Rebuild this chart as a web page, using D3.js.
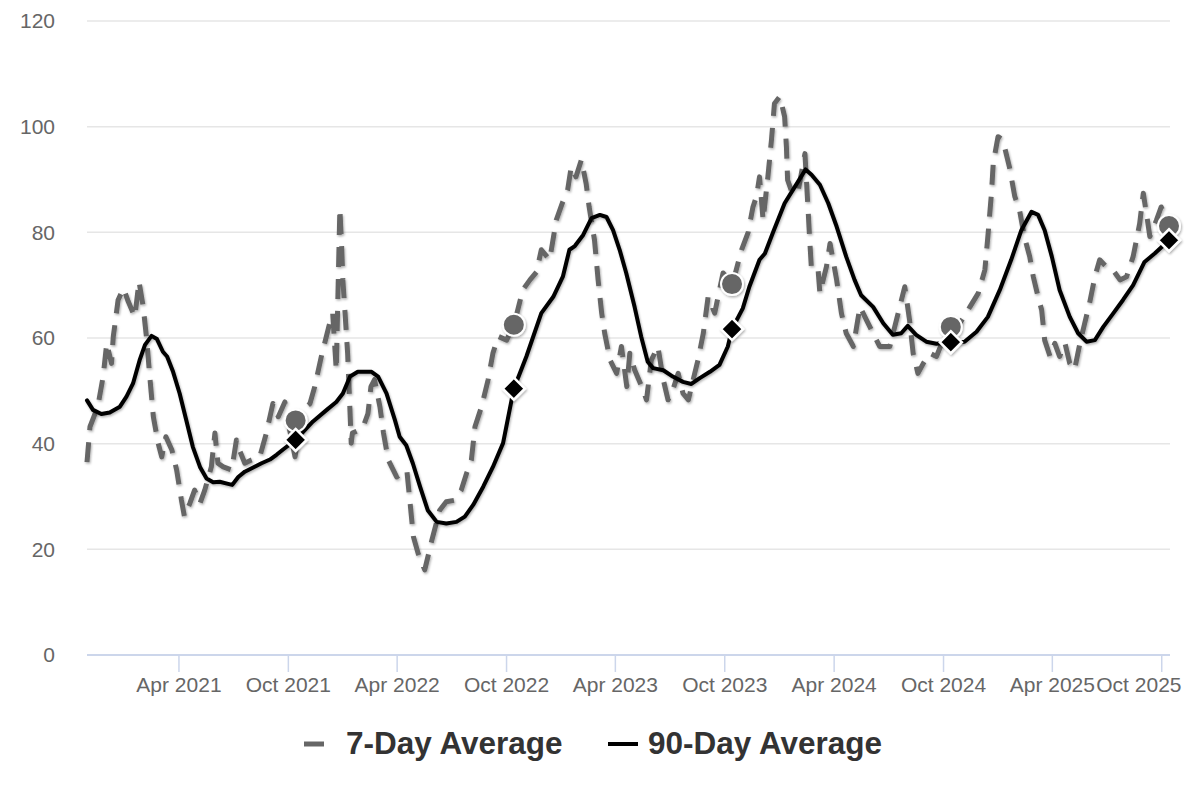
<!DOCTYPE html>
<html><head><meta charset="utf-8">
<script src="https://cdn.jsdelivr.net/npm/d3@7"></script>
<style>body{margin:0;background:#fff}svg{display:block;font-family:"Liberation Sans",Arial,Helvetica,sans-serif}</style>
</head><body><svg id="c" width="1200" height="800"></svg>
<script>
// ---- data ----
const dates7 = ["2020-10-30","2020-11-04","2020-11-17","2020-11-26","2020-12-02","2020-12-10","2020-12-13","2020-12-16","2020-12-21","2020-12-30",
"2021-01-07","2021-01-18","2021-01-25","2021-02-01","2021-02-07","2021-02-12","2021-02-18","2021-02-26","2021-03-04","2021-03-11",
"2021-03-21","2021-03-29","2021-04-06","2021-04-11","2021-04-20","2021-04-28","2021-05-07","2021-05-15","2021-05-26","2021-06-01",
"2021-06-06","2021-06-15","2021-06-29","2021-07-07","2021-07-12","2021-07-21","2021-08-01","2021-08-15","2021-08-26","2021-09-06",
"2021-09-15","2021-09-26","2021-10-04","2021-10-13","2021-10-21","2021-11-01","2021-11-07","2021-11-15","2021-11-26","2021-12-10",
"2021-12-15","2021-12-21","2021-12-27","2021-12-30","2022-01-01","2022-01-04","2022-01-09","2022-01-12","2022-01-15","2022-01-17",
"2022-02-03","2022-02-12","2022-02-17","2022-02-23","2022-03-04","2022-03-10","2022-03-18","2022-04-01","2022-04-10","2022-04-18",
"2022-04-23","2022-04-29","2022-05-07","2022-05-18","2022-05-30","2022-06-12","2022-06-23","2022-07-07","2022-07-18","2022-07-27",
"2022-08-04","2022-08-10","2022-08-21","2022-09-01","2022-09-09","2022-09-18","2022-10-02","2022-10-15","2022-10-29","2022-11-10",
"2022-11-21","2022-11-29","2022-12-13","2022-12-24","2023-01-04","2023-01-12","2023-01-18","2023-01-26","2023-02-04","2023-02-12",
"2023-02-17","2023-02-26","2023-03-04","2023-03-10","2023-03-15","2023-03-24","2023-04-04","2023-04-12","2023-04-21","2023-04-26",
"2023-05-04","2023-05-16","2023-05-24","2023-06-01","2023-06-12","2023-06-21","2023-06-29","2023-07-07","2023-07-16","2023-07-24",
"2023-08-02","2023-08-10","2023-08-18","2023-08-27","2023-09-04","2023-09-15","2023-09-29","2023-10-15","2023-10-30","2023-11-10",
"2023-11-18","2023-11-24","2023-11-29","2023-12-05","2023-12-13","2023-12-19","2023-12-24","2024-01-02","2024-01-10","2024-01-13",
"2024-01-15","2024-01-21","2024-02-01","2024-02-13","2024-02-18","2024-02-21","2024-02-24","2024-03-06","2024-03-09","2024-03-20",
"2024-03-26","2024-04-06","2024-04-14","2024-04-22","2024-05-04","2024-05-15","2024-05-26","2024-06-06","2024-06-17","2024-07-04",
"2024-07-15","2024-07-29","2024-08-06","2024-08-12","2024-08-20","2024-08-29","2024-09-09","2024-09-20","2024-10-01","2024-10-18",
"2024-10-29","2024-11-09","2024-11-15","2024-11-29","2024-12-10","2024-12-15","2024-12-21","2024-12-24","2025-01-01","2025-01-09",
"2025-01-20","2025-01-29","2025-02-06","2025-02-14","2025-02-23","2025-03-01","2025-03-09","2025-03-15","2025-03-20","2025-03-29",
"2025-04-06","2025-04-14","2025-04-23","2025-05-01","2025-05-09","2025-05-18","2025-05-26","2025-06-03","2025-06-12","2025-06-20",
"2025-07-01","2025-07-12","2025-07-24","2025-08-04","2025-08-15","2025-08-26","2025-09-01","2025-09-07","2025-09-12","2025-09-23",
"2025-10-01","2025-10-14"];
const values7 = [36.5,43.2,47.0,52.7,59.0,55.2,60.3,62.8,67.2,69.4,
66.9,64.0,70.7,65.9,59.6,52.7,45.1,40.1,37.5,41.3,
38.8,35.0,29.3,26.2,28.7,31.2,28.7,31.2,35.6,42.0,
36.3,35.6,35.0,40.7,38.8,36.3,36.9,37.5,42.0,47.6,
45.1,47.9,42.6,37.5,43.2,47.0,47.6,50.8,56.5,62.8,
64.7,53.9,84.5,77.3,71.0,65.9,57.1,48.9,40.1,42.0,
42.9,45.7,50.8,52.1,47.0,42.0,36.9,33.7,34.4,35.0,
29.3,22.4,19.2,16.1,21.8,27.4,29.0,29.3,31.2,34.4,
36.9,43.2,47.0,52.1,57.1,60.3,59.6,62.8,69.1,71.0,
72.5,76.7,74.8,82.3,85.8,88.0,92.4,90.5,93.7,89.2,
84.8,78.5,71.0,64.7,60.9,55.8,53.3,58.4,50.8,57.1,
54.0,50.8,48.3,55.8,58.4,52.1,48.3,50.2,53.3,49.5,
48.3,52.1,55.8,60.9,67.8,64.7,72.3,70.3,76.7,80.0,
84.8,86.8,90.5,82.3,90.5,97.5,104.4,105.7,101.9,96.2,
89.9,88.0,87.4,94.9,84.8,78.5,72.9,72.9,68.5,73.5,
77.9,71.0,64.7,60.9,58.4,65.9,63.4,60.9,58.4,58.4,
63.4,69.7,63.4,57.1,53.3,55.2,57.1,56.5,59.6,61.8,
62.8,64.7,65.9,68.5,72.9,79.2,87.4,93.1,98.1,97.5,
92.4,86.8,84.2,79.2,75.4,71.6,67.8,65.3,59.6,56.5,
59.0,56.5,59.0,55.2,54.0,59.0,62.8,66.5,71.6,74.8,
73.5,72.9,71.0,71.6,75.4,81.7,87.4,83.0,79.2,82.3,
84.8,81.5];

const dates90 = ["2020-10-30","2020-11-09","2020-11-23","2020-12-07","2020-12-24","2021-01-04","2021-01-15","2021-01-26","2021-02-04","2021-02-15",
"2021-02-24","2021-03-06","2021-03-13","2021-03-23","2021-04-03","2021-04-14","2021-04-25","2021-05-07","2021-05-18","2021-05-29",
"2021-06-09","2021-06-23","2021-06-30","2021-07-10","2021-07-21","2021-08-04","2021-08-18","2021-09-01","2021-09-12","2021-09-23",
"2021-10-14","2021-11-12","2021-12-05","2021-12-21","2022-01-01","2022-01-13","2022-01-26","2022-02-18","2022-03-01","2022-03-15",
"2022-03-29","2022-04-06","2022-04-17","2022-04-28","2022-05-10","2022-05-23","2022-06-07","2022-06-23","2022-07-10","2022-07-24",
"2022-08-07","2022-08-24","2022-09-09","2022-09-26","2022-10-14","2022-11-04","2022-11-29","2022-12-19","2023-01-04","2023-01-15",
"2023-01-24","2023-02-07","2023-02-21","2023-03-07","2023-03-18","2023-03-29","2023-04-09","2023-04-20","2023-05-04","2023-05-15",
"2023-05-26","2023-06-04","2023-06-21","2023-07-07","2023-07-24","2023-08-07","2023-08-21","2023-09-07","2023-09-23","2023-10-07",
"2023-10-14","2023-11-01","2023-11-12","2023-11-29","2023-12-08","2023-12-22","2024-01-10","2024-01-27","2024-02-14","2024-02-24",
"2024-03-09","2024-03-23","2024-04-06","2024-04-22","2024-05-06","2024-05-17","2024-06-06","2024-06-23","2024-07-09","2024-07-23",
"2024-08-03","2024-08-17","2024-09-03","2024-09-20","2024-10-14","2024-11-06","2024-11-26","2024-12-15","2025-01-04","2025-01-23",
"2025-02-09","2025-02-26","2025-03-09","2025-03-20","2025-04-01","2025-04-14","2025-05-01","2025-05-15","2025-05-29","2025-06-12",
"2025-06-26","2025-07-13","2025-07-29","2025-08-15","2025-09-03","2025-09-20","2025-10-14"];
const values90 = [48.2,46.4,45.6,45.9,47.0,48.9,51.4,55.8,58.7,60.4,
59.8,57.4,56.5,53.6,49.5,44.5,39.4,35.6,33.4,32.7,
32.8,32.4,32.2,33.7,34.7,35.5,36.3,37.0,37.9,38.9,
40.7,44.2,46.4,47.9,49.5,52.7,53.6,53.6,52.7,49.5,
44.5,41.3,39.7,36.3,31.9,27.4,25.2,24.9,25.2,26.2,
28.4,31.9,35.6,40.1,50.4,56.5,64.7,67.8,71.6,76.7,
77.4,79.5,82.7,83.3,82.9,80.4,76.7,72.3,65.9,60.3,
55.5,54.3,53.9,52.7,51.7,51.3,52.4,53.6,54.9,58.4,
61.7,65.6,69.7,74.8,76.0,80.1,85.5,88.6,91.9,90.9,
89.0,85.5,81.1,75.4,71.0,68.1,65.9,62.8,60.6,60.9,
62.3,60.6,59.3,58.9,59.2,59.3,61.2,64.0,69.1,74.8,
80.4,83.9,83.3,80.4,75.4,69.1,64.0,60.9,59.3,59.6,
62.1,64.7,67.2,70.0,74.4,76.0,78.5];

const markerDates = ["2021-10-14","2022-10-14","2023-10-14","2024-10-14","2025-10-14"];
const marker7Values = [44.4,62.5,70.2,62.1,81.2];
const marker90Values = [40.7,50.4,61.7,59.2,78.5];

const yTicks = [0,20,40,60,80,100,120];
const xTickDates = ["2021-04-01","2021-10-01","2022-04-01","2022-10-01","2023-04-01","2023-10-01","2024-04-01","2024-10-01","2025-04-01","2025-10-01"];
const seriesNames = ["7-Day Average","90-Day Average"];
const domainDates = ["2020-10-30","2025-10-14"];

// ---- chart ----
const parse = d3.utcParse("%Y-%m-%d");
const svg = d3.select("#c");
const plotL = 87, plotR = 1169, plotT = 21, plotB = 655;

const x = d3.scaleUtc().domain(domainDates.map(parse)).range([plotL, plotR]);
const y = d3.scaleLinear().domain([0, 120]).range([plotB, plotT]);

const defs = svg.append("defs");
const f = defs.append("filter").attr("id","sh").attr("x","-20%").attr("y","-20%").attr("width","140%").attr("height","140%");
f.append("feDropShadow").attr("dx",1).attr("dy",1.5).attr("stdDeviation",1.3).attr("flood-color","#000").attr("flood-opacity",0.3);

// grid
svg.append("g").selectAll("line").data(yTicks.filter(d=>d>0)).join("line")
  .attr("x1", plotL).attr("x2", 1170).attr("y1", d=>y(d)).attr("y2", d=>y(d))
  .attr("stroke","#e6e6e6").attr("stroke-width",1.5);

// y labels
svg.append("g").selectAll("text").data(yTicks).join("text")
  .attr("x", 55).attr("y", d=>y(d)).attr("dy","0.35em").attr("text-anchor","end")
  .attr("font-size",21).attr("fill","#666").text(d=>d);

// x axis
const xg = svg.append("g").attr("transform",`translate(0,${plotB})`);
const xAxis = d3.axisBottom(x).tickValues(xTickDates.map(parse)).tickSize(17).tickPadding(8)
  .tickFormat(d3.utcFormat("%b %Y"));
xg.call(xAxis);
xg.attr("font-family",null).attr("font-size",null);
xg.select(".domain").attr("stroke","#ccd6eb").attr("stroke-width",2).attr("d",`M${plotL},0H1170`);
xg.selectAll(".tick line").attr("stroke","#ccd6eb").attr("stroke-width",1.5);
xg.selectAll(".tick text").attr("font-size",21).attr("fill","#666").attr("dy","0.57em");
xg.selectAll(".tick").each(function(d){
  const t = d3.select(this).select("text");
  const w = t.node().getComputedTextLength();
  const tx = x(d);
  const maxRight = 1181;
  if (tx + w/2 > maxRight) t.attr("x", maxRight - w/2 - tx);
});

// lines
const pts7 = dates7.map((d,i)=>[parse(d), values7[i]]);
const pts90 = dates90.map((d,i)=>[parse(d), values90[i]]);
const line = d3.line().x(d=>x(d[0])).y(d=>y(d[1]));

svg.append("path").datum(pts7).attr("d", line).attr("fill","none")
  .attr("stroke","#666666").attr("stroke-width",5).attr("stroke-dasharray","20,12")
  .attr("stroke-linejoin","round").attr("filter","url(#sh)");
svg.append("path").datum(pts90).attr("d", line).attr("fill","none")
  .attr("stroke","#000").attr("stroke-width",4).attr("stroke-linejoin","round").attr("stroke-linecap","round")
  .attr("filter","url(#sh)");

// markers
const mk = markerDates.map((d,i)=>({date:parse(d), v7:marker7Values[i], v90:marker90Values[i]}));
svg.append("g").selectAll("circle").data(mk).join("circle")
  .attr("cx", d=>x(d.date)).attr("cy", d=>y(d.v7)).attr("r",11)
  .attr("fill","#666666").attr("stroke","#fff").attr("stroke-width",2).attr("filter","url(#sh)");
svg.append("g").selectAll("path").data(mk).join("path")
  .attr("d", d=>{const cx=x(d.date), cy=y(d.v90), r=11; return `M${cx},${cy-r}L${cx+r},${cy}L${cx},${cy+r}L${cx-r},${cy}Z`;})
  .attr("fill","#000").attr("stroke","#fff").attr("stroke-width",2.5).attr("filter","url(#sh)");

// legend
const lg = svg.append("g").attr("font-size",31.5).attr("font-weight","bold").attr("fill","#333");
lg.append("line").attr("x1",304).attr("x2",324).attr("y1",744).attr("y2",744).attr("stroke","#666666").attr("stroke-width",5);
lg.append("text").attr("x",346).attr("y",754).text(seriesNames[0]);
lg.append("line").attr("x1",608).attr("x2",638).attr("y1",744).attr("y2",744).attr("stroke","#000").attr("stroke-width",4);
lg.append("text").attr("x",648).attr("y",754).text(seriesNames[1]);
</script></body></html>
